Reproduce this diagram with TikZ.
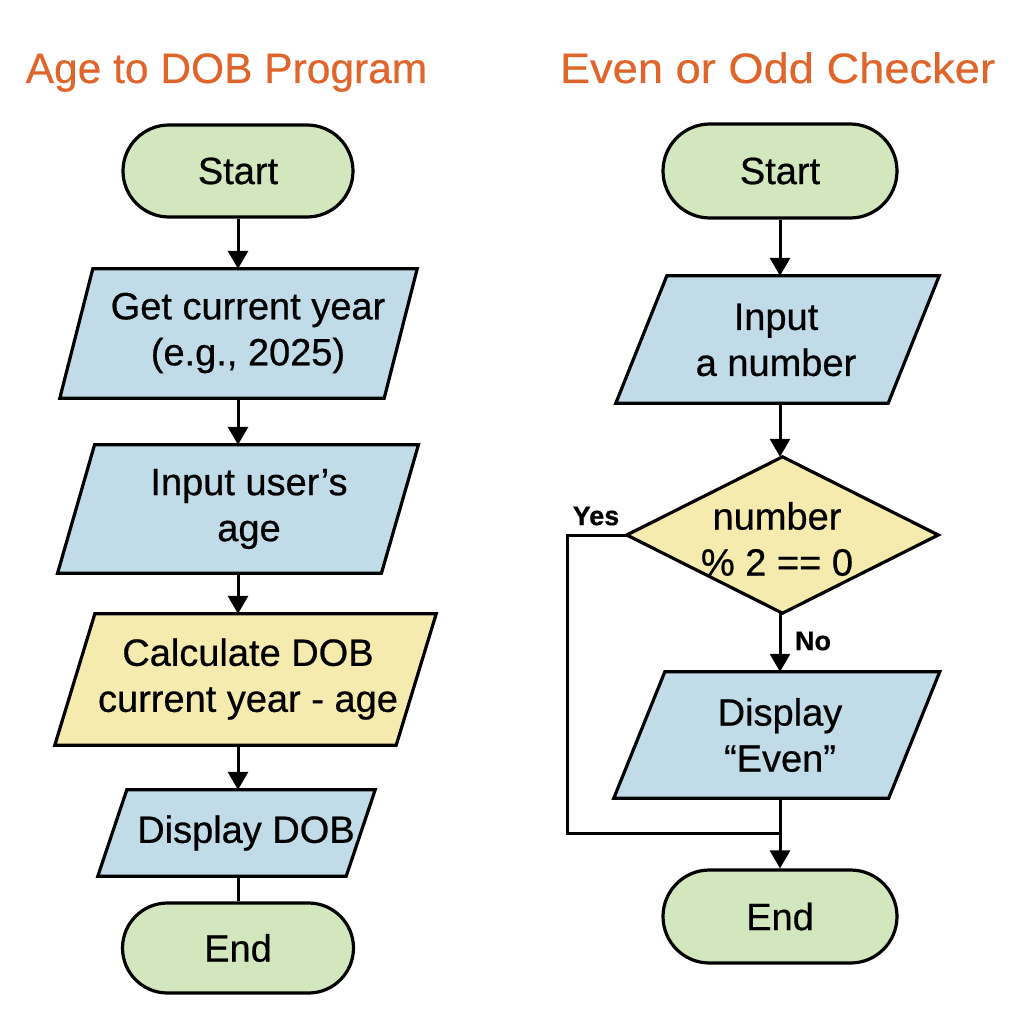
\documentclass[tikz,border=0pt]{standalone}
\usepackage{fontspec}
\setmainfont[FakeBold=0.6]{Liberation Sans}
\newfontfamily\ttlfont[FakeBold=0.4]{Liberation Sans}
\newfontfamily\ttlwidefont[FakeBold=0.4,FakeStretch=1.065]{Liberation Sans}
\usetikzlibrary{arrows.meta}
\definecolor{ttl}{HTML}{E0652A}
\definecolor{gfill}{HTML}{D2E7BD}
\definecolor{bfill}{HTML}{C1DBE8}
\definecolor{yfill}{HTML}{F6EBAF}
\tikzset{
  shapeline/.style={line width=3.2pt, draw=black, line join=miter},
  term/.style={shapeline, rectangle, inner sep=0pt, font=\fontsize{38}{46}\selectfont},
  lbl/.style={font=\fontsize{38}{46}\selectfont, align=center, inner sep=0pt},
  conn/.style={line width=3pt, -{Triangle[width=20pt,length=18pt]}},
  plainconn/.style={line width=3pt},
  ttlstyle/.style={text=ttl, anchor=base, inner sep=0pt},
  yn/.style={font=\bfseries\fontsize{27}{30}\selectfont, inner sep=0pt}
}
% name, x, y, width, height, skew, fill
\newcommand{\pgram}[7]{%
  \node[inner sep=0pt, minimum width=#4pt, minimum height=#5pt] (#1) at (#2,#3) {};
  \draw[shapeline, fill=#7] ([xshift=#6pt/2]#1.north west) -- ([xshift=#6pt/2]#1.north east)
     -- ([xshift=-#6pt/2]#1.south east) -- ([xshift=-#6pt/2]#1.south west) -- cycle;
}
\begin{document}
\begin{tikzpicture}[x=1pt,y=-1pt]
\useasboundingbox[fill=white] (0,0) rectangle (1024,1024);

% titles
\node[ttlstyle, font=\ttlfont\fontsize{42.5}{50}\selectfont] (t1) at (226.5,83) {Age to DOB Program};
\node[ttlstyle, font=\ttlwidefont\fontsize{42.5}{50}\selectfont] (t2) at (777.5,83) {Even or Odd Checker};

% ---------- left flowchart ----------
\node[term, fill=gfill, minimum width=230pt, minimum height=92pt, rounded corners=46pt] (ls) at (238,171) {Start};
\pgram{la}{238.5}{333.5}{324}{129}{33}{bfill}
\node[lbl] (lat) at (248,333) {Get current year\\(e.g., 2025)};
\pgram{lb}{238}{509}{323.5}{128}{37}{bfill}
\node[lbl] (lbt) at (249,509) {Input user’s\\age};
\pgram{lc}{245.5}{679.5}{341}{131}{40}{yfill}
\node[lbl] (lct) at (248,679) {Calculate DOB\\current year - age};
\pgram{ld}{236.5}{833}{248}{86}{29}{bfill}
\node[lbl] (ldt) at (246,833) {Display DOB};
\node[term, fill=gfill, minimum width=231pt, minimum height=90pt, rounded corners=45pt] (le) at (238,948) {End};

\draw[conn] (ls.south) -- (ls.south |- la.north);
\draw[conn] (ls.south |- la.south) -- (ls.south |- lb.north);
\draw[conn] (ls.south |- lb.south) -- (ls.south |- lc.north);
\draw[conn] (ls.south |- lc.south) -- (ls.south |- ld.north);
\draw[plainconn] (ls.south |- ld.south) -- (le.north);

% ---------- right flowchart ----------
\node[term, fill=gfill, minimum width=234pt, minimum height=94pt, rounded corners=47pt] (rs) at (780,171) {Start};
\pgram{ra}{777.5}{339.5}{272}{127}{51}{bfill}
\node[lbl] (rat) at (776,340) {Input\\a number};
\node[inner sep=0pt, minimum width=311pt, minimum height=156pt] (rd) at (782.5,535) {};
\draw[shapeline, fill=yfill] (rd.north) -- (rd.east) -- (rd.south) -- (rd.west) -- cycle;
\node[lbl] (rdt) at (777,539) {number\\\% 2 == 0};
\pgram{rb}{776.75}{735}{274.5}{126}{51}{bfill}
\node[lbl] (rbt) at (780,735) {Display\\“Even”};
\node[term, fill=gfill, minimum width=234pt, minimum height=93pt, rounded corners=46.5pt] (re) at (780,916.5) {End};

\coordinate (yc) at (567,535);
\coordinate (mg) at (780,833);

\draw[conn] (rs.south) -- (rs.south |- ra.north);
\draw[conn] (rs.south |- ra.south) -- (rs.south |- rd.north);
\draw[conn] (rs.south |- rd.south) -- (rs.south |- rb.north);
\draw[conn] (rs.south |- rb.south) -- (re.north);
\draw[plainconn, line join=miter] (rd.west) -- (yc) |- (mg);

\node[yn] (yes) at (596,516) {Yes};
\node[yn] (no) at (813,641) {No};
\end{tikzpicture}
\end{document}
